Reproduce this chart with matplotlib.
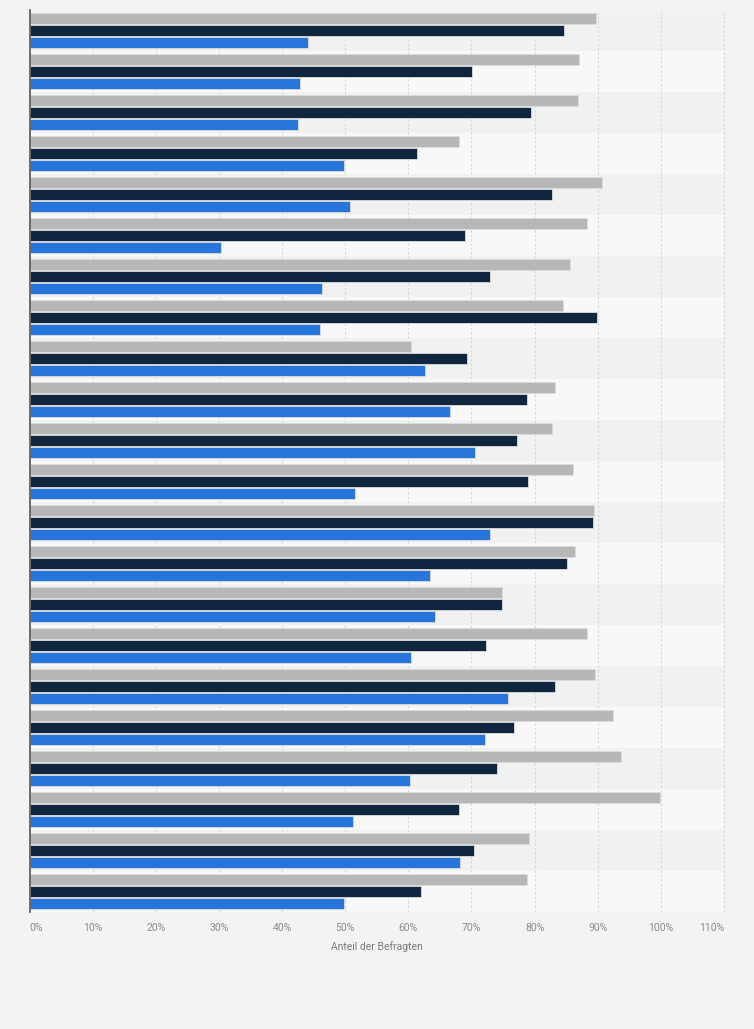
import numpy as np
import matplotlib
matplotlib.use("Agg")
import matplotlib.pyplot as plt

# values (percent), top group first
grau = [89.8, 87.1, 86.8, 68.1, 90.6, 88.3, 85.6, 84.5, 60.5, 83.3, 82.8,
        86.1, 89.4, 86.4, 74.8, 88.3, 89.6, 92.4, 93.7, 99.9, 79.1, 78.8]
dunkel = [84.7, 70.1, 79.5, 61.4, 82.8, 69.0, 72.9, 89.9, 69.3, 78.8, 77.2,
          79.0, 89.3, 85.2, 74.8, 72.3, 83.3, 76.7, 74.0, 68.0, 70.4, 62.0]
blau = [44.1, 42.9, 42.5, 49.8, 50.8, 30.3, 46.3, 46.0, 62.6, 66.6, 70.6,
        51.6, 73.0, 63.4, 64.2, 60.4, 75.8, 72.1, 60.3, 51.3, 68.2, 49.8]
xticks = list(range(0, 111, 10))
xlabels = [f"{t}%" for t in xticks]

plt.rcParams['font.family'] = ['Roboto', 'DejaVu Sans']

fig = plt.figure(figsize=(7.54, 10.29), dpi=100, facecolor="#f3f3f3")
ax = fig.add_axes([29.5 / 754, 117 / 1029, 694.5 / 754, 902 / 1029])
ax.set_facecolor("#f8f8f8")

n = len(grau)
y = np.arange(n)

# alternating row bands
for i in range(n):
    if i % 2 == 0:
        ax.axhspan(i - 0.5, i + 0.5, color="#f1f1f1", zorder=0, lw=0)

h = 0.27
off = 0.29
kw = dict(height=h, linewidth=0.6, edgecolor="#dcdcdc", zorder=3)
ax.barh(y - off, grau, color="#b7b7b7", **kw)
ax.barh(y, dunkel, color="#0f263e", **kw)
ax.barh(y + off, blau, color="#2775da", **kw)

ax.set_xlim(0, 110)
ax.set_ylim(n - 0.5, -0.5)
ax.set_yticks([])
ax.set_xticks(xticks)
ax.set_xticklabels(xlabels, fontsize=7.5, color="#8a8a8a")
tl = ax.get_xticklabels()
tl[0].set_ha("left")
tl[-1].set_ha("right")
ax.tick_params(axis="x", length=0, pad=8)
ax.grid(axis="x", color="#d6d6d6", linestyle=(0, (2, 2)), linewidth=0.8, zorder=1)
ax.axvline(110, color="#d6d6d6", linestyle=(0, (2, 2)), linewidth=0.8, zorder=1,
           clip_on=False)

for s in ["top", "right", "bottom"]:
    ax.spines[s].set_visible(False)
ax.spines["left"].set_color("#555555")
ax.spines["left"].set_linewidth(1.2)
ax.spines["left"].set_zorder(4)

ax.set_xlabel("Anteil der Befragten", fontsize=7.5, color="#7a7a7a", labelpad=5.5)

plt.savefig("out.png", dpi=100, facecolor=fig.get_facecolor())
